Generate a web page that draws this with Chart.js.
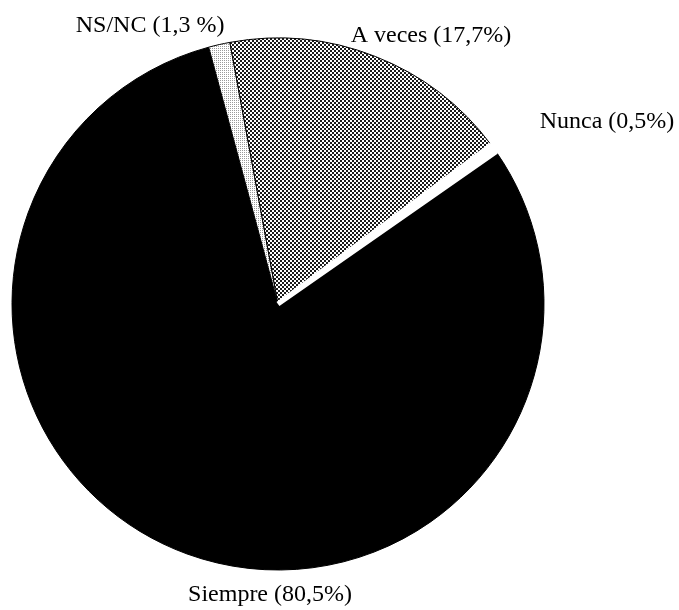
<!DOCTYPE html>
<html>
<head>
<meta charset="utf-8">
<script src="https://cdn.jsdelivr.net/npm/chart.js@4.4.1/dist/chart.umd.min.js"></script>
<style>
  html, body { margin: 0; padding: 0; background: #ffffff; }
  #wrap { width: 679px; height: 610px; position: relative; }
</style>
</head>
<body>
<div id="wrap"><canvas id="pieChart"></canvas></div>
<script>
// answers, clockwise starting from the big black slice
var categories = ['Siempre', 'NS/NC', 'A veces', 'Nunca'];
var percents = [80.5, 1.3, 17.7, 0.5];
var percentSigns = ['%', ' %', '%', '%'];

// label anchors, relative to the pie centre in units of the radius
var labelAnchors = [[-0.03, 1.117], [-0.481, -1.023], [0.575, -0.985], [1.237, -0.662]];

// small repeating dot screens for the grey slices
function makePattern(size, dots, ink) {
    var c = document.createElement('canvas');
    c.width = size;
    c.height = size;
    var g = c.getContext('2d');
    g.fillStyle = '#ffffff';
    g.fillRect(0, 0, size, size);
    g.fillStyle = ink;
    dots.forEach(function (d) { g.fillRect(d[0], d[1], 1, 1); });
    return g.createPattern(c, 'repeat');
}

var dotsDark = makePattern(4, [[0, 0], [1, 0], [0, 1], [1, 1], [2, 2], [3, 2], [2, 3], [3, 3]], '#1a1a1a');
var dotsLight = makePattern(2, [[0, 0]], '#9a9a9a');

var labelsPlugin = {
    id: 'sliceLabels',
    afterDraw: function (chart) {
        var arc = chart.getDatasetMeta(0).data[0];
        if (!arc) return;
        var ctx = chart.ctx;
        var r = arc.outerRadius;
        ctx.save();
        ctx.font = '24px "Liberation Serif", "Times New Roman", serif';
        ctx.fillStyle = '#000000';
        ctx.textAlign = 'center';
        ctx.textBaseline = 'alphabetic';
        categories.forEach(function (cat, i) {
            var text = cat + ' (' + String(percents[i]).replace('.', ',') + percentSigns[i] + ')';
            ctx.fillText(text, arc.x + labelAnchors[i][0] * r, arc.y + labelAnchors[i][1] * r);
        });
        ctx.restore();
    }
};

var ctx = document.getElementById('pieChart').getContext('2d');
new Chart(ctx, {
    type: 'pie',
    data: {
        labels: categories,
        datasets: [{
            data: percents,
            backgroundColor: ['#000000', dotsLight, dotsDark, '#ffffff'],
            borderColor: ['#000000', '#000000', '#000000', '#ffffff'],
            borderWidth: [1, 1, 1, 5],
            hoverOffset: 0
        }]
    },
    options: {
        responsive: true,
        maintainAspectRatio: false,
        animation: false,
        rotation: 55.1,
        layout: {
            padding: { left: 9.5, top: 35.5, right: 132.5, bottom: 37.5 }
        },
        plugins: {
            legend: { display: false },
            tooltip: { enabled: false }
        }
    },
    plugins: [labelsPlugin]
});
</script>
</body>
</html>
